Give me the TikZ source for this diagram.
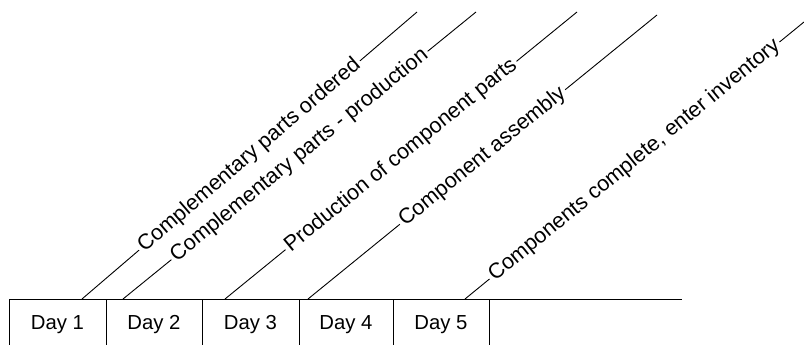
\documentclass[tikz,border=0pt]{standalone}
\usepackage{fontspec}
\setmainfont{Liberation Sans}
\begin{document}
\begin{tikzpicture}[x=1pt, y=-1pt, line width=0.9pt,
  event/.style={midway, sloped, fill=white, inner xsep=2.5pt, inner ysep=1pt,
    font=\fontsize{21.5}{25}\selectfont},
  daylabel/.style={anchor=base, inner sep=0pt, font=\fontsize{20.3}{24}\selectfont}]
\useasboundingbox (0,0) rectangle (804,345);
\begin{scope}
\clip (0,0) rectangle (804,345);

% timeline axis
\coordinate (axisL) at (9,299);
\coordinate (axisR) at (682,299);
\draw (axisL) -- (axisR);

% day dividers
\foreach \x [count=\i] in {9,106,202,299,393,489} {
  \coordinate (top\i) at (\x,299);
  \coordinate (bot\i) at (\x,345);
  \draw (top\i) -- (bot\i);
}

% day labels
\node[daylabel] (day1) at (57.5,329) {Day 1};
\node[daylabel] (day2) at (154,329) {Day 2};
\node[daylabel] (day3) at (250.5,329) {Day 3};
\node[daylabel] (day4) at (346,329) {Day 4};
\node[daylabel] (day5) at (441,329) {Day 5};

% event leaders
\coordinate (s1) at (82,299);  \coordinate (e1) at (417,12);
\coordinate (s2) at (123,299); \coordinate (e2) at (476,12);
\coordinate (s3) at (225,299); \coordinate (e3) at (577,12);
\coordinate (s4) at (308,299); \coordinate (e4) at (657,15);
\coordinate (s5) at (465,299); \coordinate (e5) at (804,22);

\draw (s1) -- node[event] (ev1) {Complementary parts ordered} (e1);
\draw (s2) -- node[event] (ev2) {Complementary parts - production} (e2);
\draw (s3) -- node[event] (ev3) {Production of component parts} (e3);
\draw (s4) -- node[event] (ev4) {Component assembly} (e4);
\draw (s5) -- node[event] (ev5) {Components complete, enter inventory} (e5);
\end{scope}
\end{tikzpicture}
\end{document}
